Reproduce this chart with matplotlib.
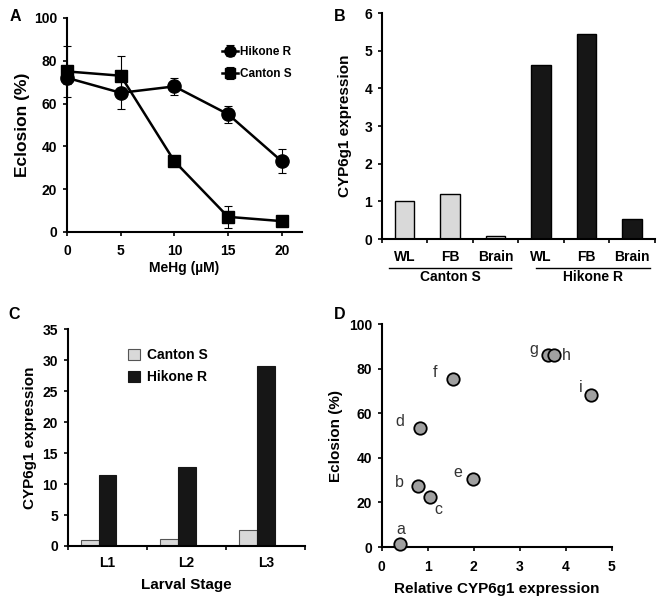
import numpy as np
import matplotlib
matplotlib.use("Agg")
import matplotlib.pyplot as plt
from matplotlib.transforms import blended_transform_factory

plt.rcParams["font.family"] = ["Liberation Sans", "DejaVu Sans"]
plt.rcParams["font.weight"] = "bold"

# panel A: eclosion vs MeHg
mehg = [0, 5, 10, 15, 20]
hikone_ecl = [72, 65, 68, 55, 33]
hikone_err = [3, 7.5, 4, 4, 5.5]
canton_ecl = [75, 73, 33, 7, 5]
canton_err = [12, 9, 1, 5, 1]

# panel B: tissue expression
tissues = ["WL", "FB", "Brain", "WL", "FB", "Brain"]
tissue_expr = [1.0, 1.2, 0.07, 4.63, 5.45, 0.53]
tissue_strain = ["Canton S", "Canton S", "Canton S", "Hikone R", "Hikone R", "Hikone R"]

# panel C: larval stages
stages = ["L1", "L2", "L3"]
canton_stage = [1.0, 1.1, 2.6]
hikone_stage = [11.4, 12.7, 29.0]

# panel D: eclosion vs relative expression
pt_labels = ["a", "b", "c", "d", "e", "f", "g", "h", "i"]
rel_expr = [0.40, 0.78, 1.04, 0.84, 1.98, 1.56, 3.62, 3.74, 4.56]
pt_ecl = [1.5, 27.2, 22.5, 53.6, 30.4, 75.3, 86, 86, 68.4]

LIGHT = "#d9d9d9"
DARK = "#161616"

fig = plt.figure(figsize=(6.64, 5.99), dpi=100)
axA = fig.add_axes([0.101, 0.613, 0.354, 0.357])
axB = fig.add_axes([0.575, 0.601, 0.411, 0.377])
axC = fig.add_axes([0.102, 0.0885, 0.358, 0.362])
axD = fig.add_axes([0.575, 0.0868, 0.346, 0.372])

for ax in (axA, axB, axC, axD):
    ax.spines["top"].set_visible(False)
    ax.spines["right"].set_visible(False)
    ax.spines["left"].set_linewidth(1.5)
    ax.spines["bottom"].set_linewidth(1.5)
    ax.tick_params(direction="out", length=3, width=1.2, labelsize=10, pad=4)

# A
axA.errorbar(mehg, hikone_ecl, yerr=hikone_err, color="black", lw=1.8, marker="o",
             ms=9.5, capsize=3, elinewidth=0.8, capthick=0.8, label="Hikone R", clip_on=False)
axA.errorbar(mehg, canton_ecl, yerr=canton_err, color="black", lw=1.8, marker="s",
             ms=8, capsize=3, elinewidth=0.8, capthick=0.8, label="Canton S", clip_on=False)
axA.set_xlim(0, 21.9)
axA.set_ylim(0, 100)
axA.set_xticks(mehg)
axA.set_yticks(range(0, 101, 20))
axA.tick_params(axis="x", pad=6)
axA.set_xlabel("MeHg (µM)", fontsize=10, fontweight="bold", labelpad=2)
axA.set_ylabel("Eclosion (%)", fontsize=12.5, fontweight="bold", labelpad=3)
leg = axA.legend(loc="upper right", bbox_to_anchor=(1.0, 0.92), frameon=False,
                 fontsize=8.5, handlelength=1.3, handletextpad=0.2, labelspacing=0.9,
                 markerscale=0.85)
for t in leg.get_texts():
    t.set_fontweight("bold")

# B
xb = np.arange(len(tissues))
colors_b = [LIGHT if s == "Canton S" else DARK for s in tissue_strain]
axB.bar(xb, tissue_expr, width=0.42, color=colors_b, edgecolor="black", linewidth=1)
axB.set_xlim(-0.5, 5.5)
axB.set_ylim(0, 6)
axB.set_yticks(range(0, 7))
axB.set_xticks(np.arange(-0.5, 6, 1))
axB.set_xticklabels([])
axB.set_xticks(xb, minor=True)
axB.set_xticklabels(tissues, minor=True, fontsize=10, fontweight="bold")
axB.tick_params(axis="x", which="minor", length=0, pad=8)
axB.set_ylabel("CYP6g1 expression", fontsize=11, fontweight="bold", labelpad=9)
trB = blended_transform_factory(axB.transData, axB.transAxes)
for name, (x0, x1) in [("Canton S", (-0.35, 2.35)), ("Hikone R", (2.9, 5.4))]:
    axB.plot([x0, x1], [-0.128, -0.128], color="black", lw=1, transform=trB, clip_on=False)
    axB.text((x0 + x1) / 2, -0.17, name, transform=trB, ha="center", va="center",
             fontsize=10, fontweight="bold")

# C
xc = np.arange(len(stages))
w = 0.225
axC.bar(xc - 0.11 - w / 2, canton_stage, width=w, color=LIGHT, edgecolor="#555555",
        linewidth=0.8, label="Canton S")
axC.bar(xc - 0.11 + w / 2, hikone_stage, width=w, color=DARK, edgecolor=DARK,
        linewidth=0.8, label="Hikone R")
axC.set_xlim(-0.5, 2.5)
axC.set_ylim(0, 35)
axC.set_yticks(range(0, 36, 5))
axC.set_xticks(np.arange(-0.5, 3, 1))
axC.set_xticklabels([])
axC.set_xticks(xc, minor=True)
axC.set_xticklabels(stages, minor=True, fontsize=10, fontweight="bold")
axC.tick_params(axis="x", which="minor", length=0, pad=7)
axC.set_xlabel("Larval Stage", fontsize=11, fontweight="bold", labelpad=6)
axC.set_ylabel("CYP6g1 expression", fontsize=11, fontweight="bold")
legC = axC.legend(loc="upper left", bbox_to_anchor=(0.2, 0.97), frameon=False, fontsize=10,
                  handlelength=0.9, handleheight=0.9, handletextpad=0.5, labelspacing=0.6)
for t in legC.get_texts():
    t.set_fontweight("bold")

# D
axD.scatter(rel_expr, pt_ecl, s=80, color="#a0a0a0", edgecolor="black", linewidth=1.3,
            zorder=3, clip_on=False)
offsets = {"a": (1, 14), "b": (-18, 4), "c": (9, -13), "d": (-21, 6), "e": (-15, 7),
           "f": (-18, 7), "g": (-14, 6), "h": (13, 0), "i": (-11, 7)}
for lab, x, y in zip(pt_labels, rel_expr, pt_ecl):
    axD.annotate(lab, (x, y), xytext=offsets[lab], textcoords="offset pixels",
                 ha="center", va="center", fontsize=11.5, fontweight="normal", color="#333333")
axD.set_xlim(0, 5)
axD.set_ylim(0, 100)
axD.set_xticks(range(0, 6))
axD.set_yticks(range(0, 101, 20))
axD.tick_params(axis="x", pad=6)
axD.set_xlabel("Relative CYP6g1 expression", fontsize=11, fontweight="bold", labelpad=6)
axD.set_ylabel("Eclosion (%)", fontsize=11, fontweight="bold")

for ax in (axA, axB, axC, axD):
    for lbl in ax.get_xticklabels() + ax.get_yticklabels():
        lbl.set_fontweight("bold")

for lab, x, y in [("A", 0.014, 0.985), ("B", 0.503, 0.985), ("C", 0.012, 0.488), ("D", 0.503, 0.488)]:
    fig.text(x, y, lab, fontsize=11.5, fontweight="bold", va="top")

fig.savefig("out.png", dpi=100)
